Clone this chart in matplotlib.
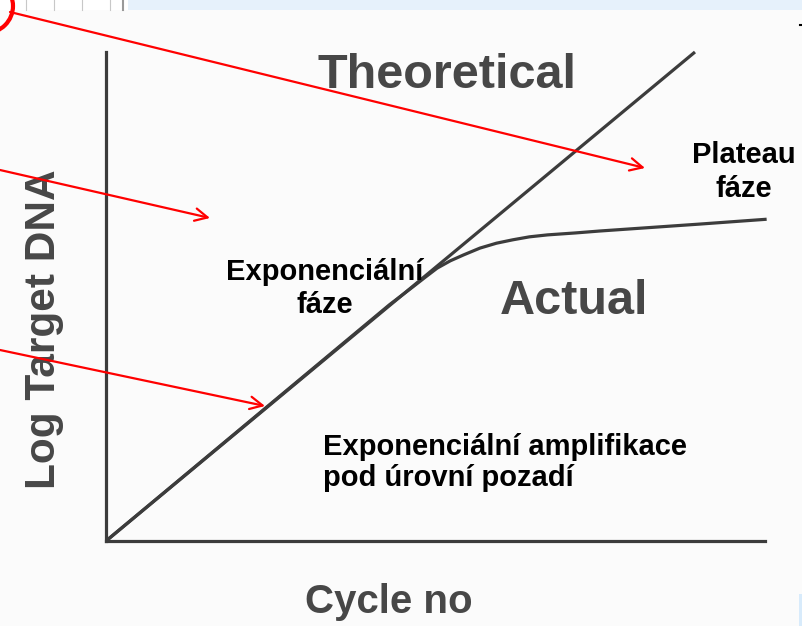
import matplotlib
matplotlib.use('agg')
import matplotlib.pyplot as plt
from matplotlib.patches import Circle, Rectangle

plt.rcParams['font.family'] = ['Liberation Sans', 'DejaVu Sans']

# data (cycle no vs log target DNA)
theor_cycles = [0, 35.75]
theor_log = [0, 10.0]

actual_cycles = [0, 17.2, 18.6, 19.4, 20.1, 20.9, 21.7, 22.7, 23.7, 24.7, 25.7,
                 26.8, 28.5, 30.0, 33.0, 36.0, 40.1]
actual_log = [0, 4.83, 5.19, 5.40, 5.58, 5.73, 5.85, 5.99, 6.09, 6.16, 6.22,
              6.26, 6.30, 6.34, 6.41, 6.48, 6.58]

ink = '#3c3c3c'
W, H = 802, 626

fig = plt.figure(figsize=(W / 100, H / 100), dpi=100)
fig.patch.set_facecolor('#fbfbfb')

# background bits (slide strip at top)
bg = fig.add_axes([0, 0, 1, 1])
bg.set_xlim(0, W)
bg.set_ylim(H, 0)
bg.axis('off')
bg.add_patch(Rectangle((128, 0), W - 128, 10, color='#e6f1fb', lw=0))
bg.add_patch(Rectangle((0, 0), 128, 10, color='#ffffff', lw=0))
for xx in [26, 54, 82, 110]:
    bg.plot([xx, xx], [0, 10], color='#c8c8c8', lw=0.8)
bg.plot([123, 123], [0, 10], color='#999999', lw=1.5)
bg.add_patch(Rectangle((799, 594), 3, 32, color='#d8ebfb', lw=0))

# chart axes
ax = fig.add_axes([106 / W, (H - 541) / H, (765 - 106) / W, (541 - 52) / H])
ax.set_facecolor('none')
ax.set_xlim(0, 40)
ax.set_ylim(0, 10)
for s in ['top', 'right']:
    ax.spines[s].set_visible(False)
for s in ['left', 'bottom']:
    ax.spines[s].set_color(ink)
    ax.spines[s].set_linewidth(2.3)
ax.set_xticks([])
ax.set_yticks([])

ax.plot(theor_cycles, theor_log, color=ink, lw=2.3, clip_on=False, solid_capstyle='butt')
ax.plot(actual_cycles, actual_log, color=ink, lw=2.3, clip_on=False,
        solid_capstyle='butt', solid_joinstyle='round')

# overlay for labels and red arrows
ov = fig.add_axes([0, 0, 1, 1])
ov.set_facecolor('none')
ov.set_xlim(0, W)
ov.set_ylim(H, 0)
ov.axis('off')

gray_txt = '#474747'
ov.text(447, 76, 'Theoretical', ha='center', va='center', fontsize=35,
        fontweight='bold', color=gray_txt)
ov.text(574, 302, 'Actual', ha='center', va='center', fontsize=35,
        fontweight='bold', color=gray_txt)
ov.text(55, 329, 'Log Target DNA', ha='center', va='baseline', rotation=90,
        rotation_mode='anchor', fontsize=30.5, fontweight='bold', color=gray_txt)
ov.text(389, 613, 'Cycle no', ha='center', va='baseline', fontsize=29,
        fontweight='bold', color=gray_txt)

ov.text(325, 280, 'Exponenciální', ha='center', va='baseline', fontsize=21,
        fontweight='bold', color='black')
ov.text(325, 313, 'fáze', ha='center', va='baseline', fontsize=21,
        fontweight='bold', color='black')
ov.text(323, 455, 'Exponenciální amplifikace', ha='left', va='baseline',
        fontsize=21, fontweight='bold', color='black')
ov.text(323, 486, 'pod úrovní pozadí', ha='left', va='baseline',
        fontsize=21, fontweight='bold', color='black')
ov.text(744, 163, 'Plateau', ha='center', va='baseline', fontsize=21,
        fontweight='bold', color='black')
ov.text(744, 197, 'fáze', ha='center', va='baseline', fontsize=21,
        fontweight='bold', color='black')

arrows = [((10, 12), (645, 168)), ((0, 170), (210, 218)), ((0, 350), (265, 406))]
for start, tip in arrows:
    ov.annotate('', xy=tip, xytext=start,
                arrowprops=dict(arrowstyle='->,head_length=0.9,head_width=0.45',
                                color='#ff0000', lw=1.6, shrinkA=0, shrinkB=0))

ov.add_patch(Circle((-14, 6), 27, fill=False, ec='#ff0000', lw=3, clip_on=True))
ov.plot([800, 802], [25, 25], color='black', lw=1.5)

fig.savefig('out.png', dpi=100, facecolor=fig.get_facecolor())
